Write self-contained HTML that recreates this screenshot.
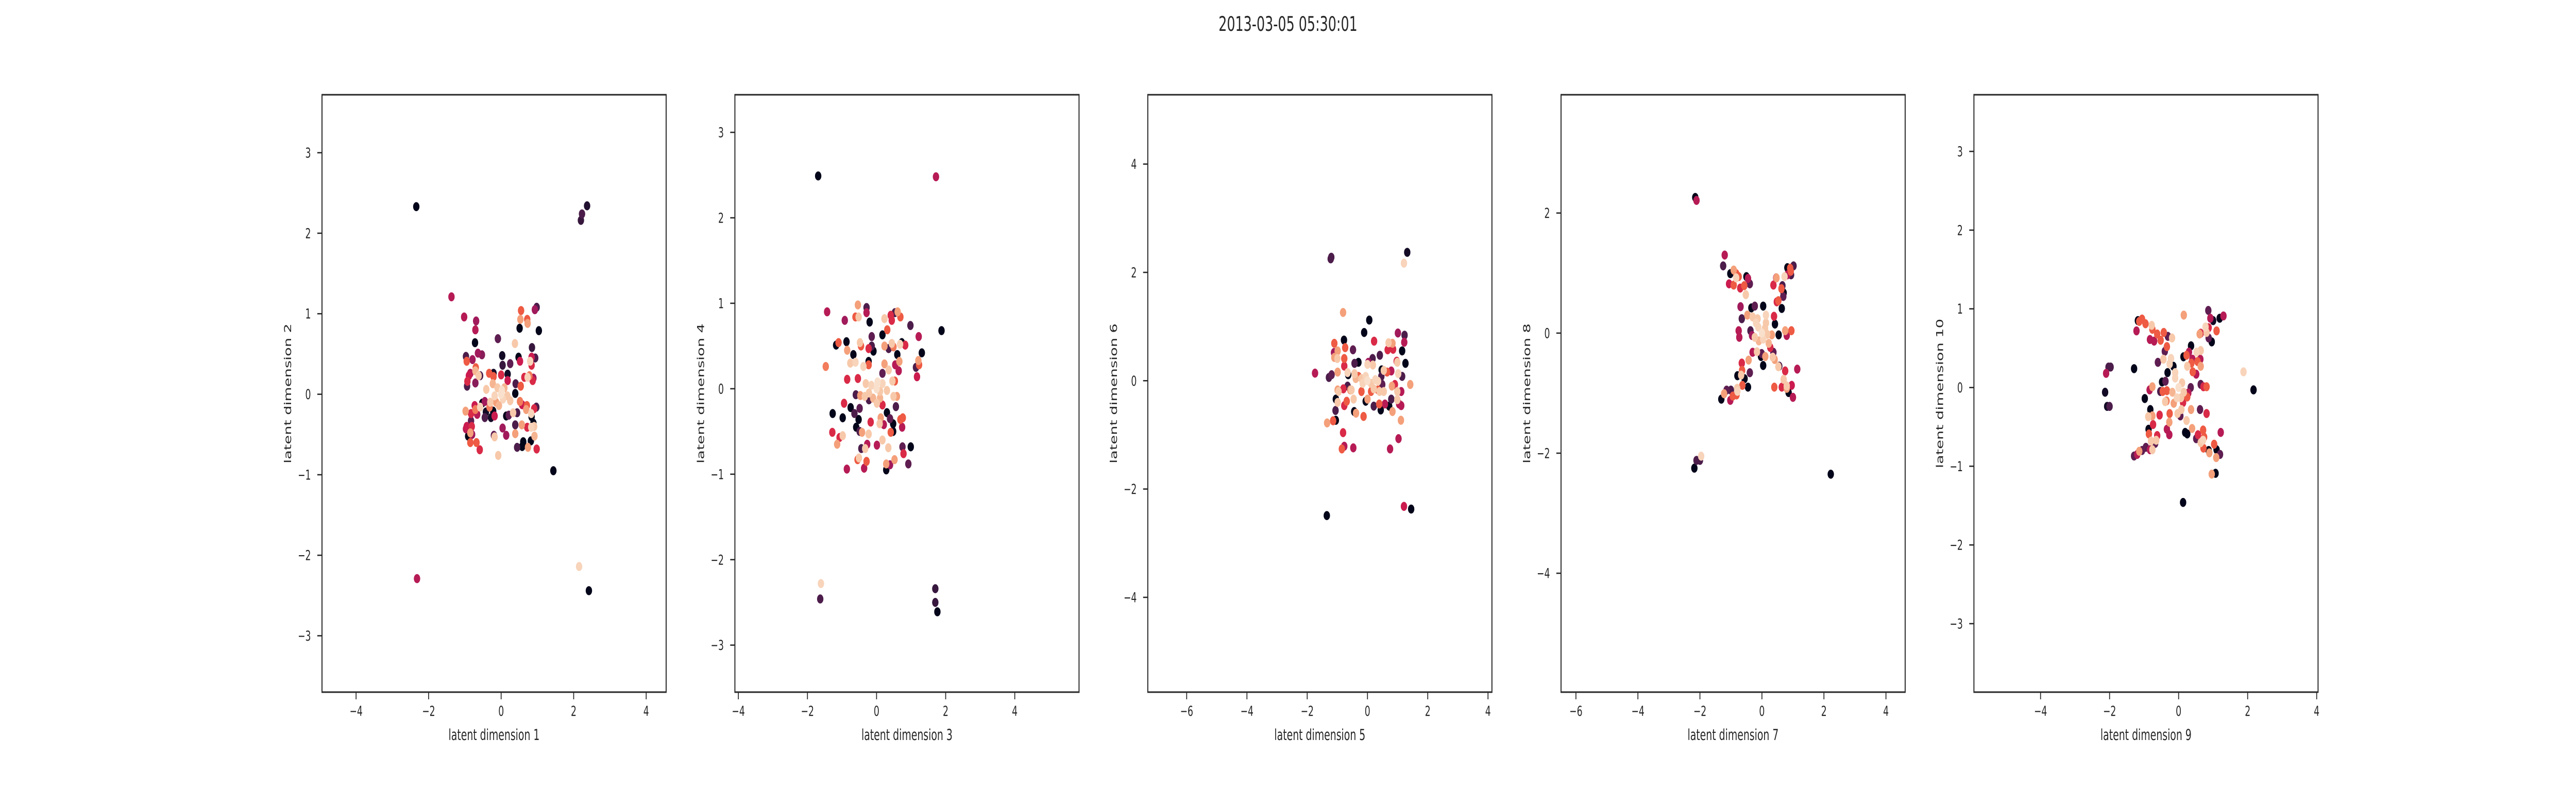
<!DOCTYPE html>
<html><head><meta charset="utf-8">
<style>
html,body{margin:0;padding:0;background:#fff;width:100%;height:100%;overflow:hidden;}
svg{display:block;width:100vw;height:100vh;}
text{font-family:"DejaVu Sans","Liberation Sans",sans-serif;fill:#262626;}
</style></head>
<body>
<svg id="fig" viewBox="0 0 7680 1536" preserveAspectRatio="none" xmlns="http://www.w3.org/2000/svg">
<rect width="7680" height="1536" fill="#fff"/>
<text x="3840" y="60" font-size="39" text-anchor="middle">2013-03-05 05:30:01</text>
</svg>
<script>
// ---- data ----
const xLabels = ["latent dimension 1","latent dimension 3","latent dimension 5","latent dimension 7","latent dimension 9"];
const yLabels = ["latent dimension 2","latent dimension 4","latent dimension 6","latent dimension 8","latent dimension 10"];
const xLimits = [[-4.94,4.55],[-4.10,5.86],[-7.29,4.13],[-6.48,4.62],[-5.93,4.04]];
const yLimits = [[-3.70,3.72],[-3.55,3.44],[-5.75,5.28],[-5.98,3.97],[-3.87,3.72]];
const xTicks = [[-4,-2,0,2,4],[-4,-2,0,2,4],[-6,-4,-2,0,2,4],[-6,-4,-2,0,2,4],[-4,-2,0,2,4]];
const yTicks = [[-3,-2,-1,0,1,2,3],[-3,-2,-1,0,1,2,3],[-4,-2,0,2,4],[-4,-2,0,2],[-3,-2,-1,0,1,2,3]];

const points1 = [[-2.34,2.33,0],[2.37,2.34,0.1],[2.23,2.24,0.2],[2.2,2.16,0.15],[-1.37,1.21,0.45],[-1.02,0.96,0.45],[-0.69,0.91,0.4],[-0.71,0.8,0.45],[-0.72,0.64,0],[-0.09,0.69,0.25],[0.55,1.04,0.65],[0.53,0.93,0.75],[0.72,0.93,0.65],[0.73,0.88,0.75],[0.98,1.08,0.2],[0.93,1.05,0.4],[1.04,0.79,0],[0.51,0.82,0],[0.38,0.63,0.85],[0.03,0.48,0.05],[0.04,0.36,0.15],[0.25,0.38,0.25],[0.48,0.46,0],[0.52,0.41,0.5],[0.85,0.58,0.15],[0.84,0.46,0.5],[0.94,0.45,0.2],[0.8,0.41,0.9],[0.84,0.36,0.55],[-0.97,0.47,0.2],[-0.95,0.41,0.65],[-0.79,0.43,0.4],[-0.53,0.49,0.35],[-0.64,0.51,0.4],[-0.7,0.33,0.65],[-0.71,0.29,0.8],[-0.62,0.23,0.85],[-0.85,0.26,0.45],[-0.89,0.23,0.5],[-0.93,0.16,0.55],[-0.94,0.1,0.2],[-0.71,0.14,0.35],[-0.58,0.23,0.2],[-0.33,0.26,0.65],[-0.21,0.26,0.05],[-0.21,0.22,0.65],[0,0.24,0.55],[0.18,0.25,0.05],[0.18,0.17,0.5],[0.4,0.13,0.2],[0.39,0.01,0],[0.54,0.1,0.65],[0.64,0.21,0.55],[0.73,0.21,0.9],[0.89,0.2,0.4],[0.87,0.17,0.55],[0.78,0.23,0.7],[-0.23,0.13,0.8],[-0.41,0.06,0.85],[0,0,0.95],[-0.1,0.08,0.85],[0.05,-0.06,0.9],[0.09,0.08,0.8],[-0.14,-0.1,0.75],[0.17,-0.02,0.85],[-0.06,-0.14,0.8],[-0.18,-0.02,0.9],[0.02,0.05,0.95],[-0.52,-0.11,0],[-0.45,-0.09,0.4],[-0.3,-0.1,0.85],[-0.32,-0.16,0.7],[-0.58,-0.16,0.9],[-0.71,-0.19,0.7],[-0.73,-0.14,0.5],[-0.98,-0.21,0.75],[-0.83,-0.24,0.55],[-0.66,-0.25,0.45],[-0.42,-0.22,0.05],[-0.45,-0.29,0.2],[-0.28,-0.29,0.05],[-0.18,-0.27,0.5],[-0.22,-0.21,0],[0.14,-0.27,0],[0.21,-0.26,0.25],[0.33,-0.23,0.85],[0.44,-0.23,0.2],[0.25,-0.08,0.85],[0.52,-0.09,0.7],[0.58,-0.13,0.5],[0.71,-0.14,0.65],[0.69,-0.19,0.75],[0.91,-0.18,0.55],[0.97,-0.16,0.2],[0.83,-0.24,0.9],[0.84,-0.28,0],[0.39,-0.38,0.2],[0.57,-0.38,0.75],[0.72,-0.41,0.55],[0.83,-0.41,0.9],[0.91,-0.4,0.85],[0.89,-0.36,0],[0.92,-0.52,0.8],[0.82,-0.58,0],[0.61,-0.59,0],[0.58,-0.65,0],[0.44,-0.66,0.2],[0.74,-0.66,0.75],[0.98,-0.68,0.55],[0.39,-0.49,0.75],[0.04,-0.42,0.4],[0.14,-0.51,0.4],[-0.2,-0.51,0.25],[-0.18,-0.53,0.85],[-0.08,-0.76,0.85],[-0.83,-0.33,0.25],[-0.81,-0.4,0.55],[-0.97,-0.43,0.45],[-0.95,-0.4,0.5],[-0.91,-0.52,0],[-0.8,-0.5,0.4],[-0.85,-0.48,0.75],[-0.85,-0.6,0.65],[-0.68,-0.6,0.65],[-0.59,-0.69,0.55],[1.44,-0.95,0],[-2.32,-2.29,0.45],[2.15,-2.14,0.9],[2.42,-2.44,0]];

const points2 = [[-1.69,2.49,0],[1.72,2.48,0.45],[-1.61,-2.28,0.9],[-1.63,-2.46,0.2],[1.7,-2.34,0.15],[1.7,-2.5,0.15],[1.76,-2.61,0],[1.88,0.68,0],[-1.43,0.9,0.45],[-1.47,0.26,0.7],[-0.92,0.8,0.4],[-0.54,0.98,0.75],[-0.29,0.95,0.2],[-0.29,0.89,0.45],[-0.61,0.84,0.65],[-0.52,0.84,0.85],[-0.2,0.78,0],[0.23,0.82,0.85],[0.41,0.86,0.55],[0.53,0.89,0.2],[0.61,0.9,0.75],[0.69,0.84,0.65],[0.44,0.8,0.55],[0.98,0.74,0.2],[1.22,0.61,0.45],[1.31,0.42,0],[1.21,0.33,0.75],[1.23,0.28,0.65],[1.14,0.25,0.2],[1.17,0.14,0.5],[0.31,0.69,0.65],[0.17,0.63,0],[-0.14,0.61,0.25],[-0.14,0.5,0.2],[-0.09,0.44,0],[-0.23,0.47,0.55],[-0.23,0.32,0],[-0.23,0.28,0.65],[-0.48,0.54,0.85],[-0.45,0.5,0.65],[-0.87,0.55,0],[-1.17,0.51,0],[-1.1,0.54,0.65],[-0.85,0.45,0.75],[-0.67,0.4,0],[-0.76,0.3,0.85],[-0.61,0.31,0.9],[-0.38,0.26,0.9],[-0.85,0.11,0.55],[0.23,0.5,0.75],[0.35,0.47,0.2],[0.44,0.53,0.85],[0.49,0.49,0.7],[0.68,0.52,0.9],[0.83,0.51,0.55],[0.73,0.54,0],[0.6,0.4,0],[0.66,0.32,0.75],[0.54,0.28,0.45],[0.64,0.21,0.45],[0.23,0.29,0.75],[0.35,0.22,0.85],[0.17,0.18,0.25],[0.53,0.09,0.65],[0.46,0.09,0.85],[-0.54,0.12,0.55],[-0.31,0.06,0.85],[0,0,0.95],[-0.15,0.04,0.9],[0.1,-0.03,0.85],[-0.1,-0.11,0.8],[0.17,0.06,0.9],[-0.22,-0.05,0.85],[0.1,-0.11,0.8],[0.3,-0.02,0.85],[0.03,0.08,0.95],[-0.6,-0.07,0.2],[-0.47,-0.08,0.75],[-0.34,-0.09,0.85],[-0.22,-0.13,0.2],[0.01,-0.17,0.85],[0.17,-0.19,0.55],[0.49,-0.09,0.85],[0.59,-0.09,0.75],[0.56,-0.21,0.2],[-0.94,-0.17,0.55],[-0.75,-0.22,0],[-0.49,-0.23,0.25],[-0.64,-0.29,0.2],[-1.27,-0.29,0],[-0.98,-0.34,0],[-0.52,-0.36,0],[-0.59,-0.45,0],[-0.49,-0.5,0.2],[-0.42,-0.51,0.75],[-0.17,-0.39,0.55],[-0.23,-0.53,0.85],[0.12,-0.34,0.75],[0.09,-0.41,0.85],[0.21,-0.42,0.45],[0.3,-0.28,0],[0.39,-0.35,0.25],[0.48,-0.41,0],[0.48,-0.5,0],[0.41,-0.51,0.65],[0.69,-0.36,0.65],[0.76,-0.34,0.65],[0.74,-0.45,0.45],[-1.28,-0.51,0.55],[-1.07,-0.57,0.55],[-0.98,-0.55,0.85],[-1.14,-0.65,0.75],[-0.44,-0.7,0.2],[-0.33,-0.7,0.85],[-0.27,-0.65,0.45],[0.01,-0.66,0.45],[0.17,-0.6,0.85],[0.34,-0.69,0.85],[0.75,-0.68,0.25],[0.99,-0.68,0],[0.78,-0.76,0.55],[0.92,-0.88,0.25],[0.52,-0.83,0.75],[0.39,-0.89,0.4],[0.28,-0.88,0.75],[0.28,-0.95,0],[-0.55,-0.83,0.65],[-0.51,-0.81,0.85],[-0.29,-0.85,0.65],[-0.36,-0.93,0.45],[-0.86,-0.94,0.45]];

const points3 = [[-1.22,2.25,0.2],[-1.2,2.28,0.2],[1.32,2.37,0.05],[1.21,2.17,0.9],[-0.81,1.26,0.75],[0.06,1.12,0],[-0.11,0.89,0],[-0.78,0.75,0],[0.22,0.73,0.55],[-0.48,0.57,0.25],[-1.1,0.69,0.65],[-0.74,0.61,0.65],[-1.11,0.52,0.4],[-0.99,0.55,0.75],[0.41,0.47,0.2],[0.67,0.57,0.55],[0.7,0.7,0.85],[0.83,0.69,0.75],[0.85,0.58,0.55],[1.01,0.88,0.4],[1.23,0.84,0.2],[1.22,0.71,0.45],[1.15,0.55,0],[1.26,0.32,0],[0.97,0.36,0.55],[0.99,0.34,0.85],[0.79,0.18,0.45],[1.02,0.13,0.9],[1.15,0.08,0.2],[1.42,-0.07,0.75],[-1.74,0.14,0.45],[-1.28,0.06,0.2],[-1.19,0.11,0.25],[-1.0,0.41,0.85],[-1.1,0.43,0.75],[-0.77,0.41,0.65],[-0.77,0.27,0.55],[-0.99,0.16,0.75],[-0.66,0.15,0.9],[-0.64,0.11,0],[-0.43,0.32,0.2],[-0.3,0.34,0],[0,0.3,0.9],[0.03,0.34,0.4],[0.17,0.41,0.2],[0.18,0.29,0.85],[0.47,0.2,0],[0.54,0.19,0.85],[0.65,0.16,0.65],[0.46,0.08,0.2],[-0.43,0.13,0.85],[-0.3,0.08,0.65],[-0.06,0.08,0.9],[0,0,0.95],[-0.16,-0.05,0.9],[0.12,-0.05,0.85],[0.26,0.02,0.9],[-0.2,0.04,0.85],[0.35,-0.01,0.9],[-0.39,0.04,0.8],[0.21,-0.15,0.85],[-0.99,-0.17,0.75],[-0.96,-0.2,0.85],[-0.8,-0.15,0.55],[-0.66,-0.1,0.2],[-0.53,-0.17,0.85],[-0.57,-0.17,0.75],[-0.2,-0.2,0.65],[0.12,-0.2,0.65],[0.35,-0.17,0.65],[0.4,-0.2,0.85],[0.54,-0.2,0.85],[0.99,-0.2,0.85],[1.12,-0.2,0.45],[0.81,-0.1,0.75],[0.91,-0.07,0.55],[0.49,-0.07,0.25],[-1.05,-0.34,0],[-0.99,-0.4,0.85],[-0.69,-0.38,0.65],[-0.77,-0.46,0.55],[-0.46,-0.34,0.85],[-0.06,-0.38,0],[0,-0.34,0.75],[0.21,-0.47,0.2],[0.39,-0.43,0.65],[0.58,-0.43,0.45],[0.72,-0.47,0],[0.79,-0.34,0.2],[0.99,-0.35,0.85],[1.05,-0.43,0.45],[1.12,-0.46,0.45],[0.44,-0.54,0],[0.83,-0.57,0.75],[-0.44,-0.57,0],[-0.38,-0.6,0.75],[-0.13,-0.66,0.65],[-1.06,-0.55,0.2],[-1.05,-0.73,0],[-1.14,-0.74,0.65],[-1.34,-0.78,0.75],[1.11,-0.73,0.75],[-0.81,-0.96,0.55],[-0.77,-1.21,0.45],[-0.85,-1.26,0.65],[-0.47,-1.24,0.45],[0.75,-1.26,0.45],[1.03,-1.07,0.45],[-1.35,-2.49,0],[1.21,-2.32,0.5],[1.45,-2.37,0]];

const points4 = [[-2.15,2.26,0],[-2.11,2.21,0.45],[-2.18,-2.25,0],[-2.11,-2.12,0.2],[-2.0,-2.12,0.2],[-1.96,-2.05,0.9],[2.22,-2.35,0],[-1.2,1.3,0.45],[-1.25,1.12,0.2],[-1.02,0.99,0],[-0.91,1.05,0.75],[-0.83,0.99,0.65],[-0.75,0.94,0.65],[-0.83,0.92,0.9],[-1.06,0.82,0.5],[-0.91,0.8,0.65],[-0.7,0.75,0.55],[-0.57,0.79,0.65],[-0.52,0.64,0.85],[-0.5,0.94,0],[-0.45,0.91,0.45],[-0.39,0.82,0.25],[-0.69,0.44,0.4],[-0.65,0.24,0.2],[-0.34,0.42,0],[-0.23,0.45,0.25],[0.04,0.45,0],[-0.47,0.3,0.75],[-0.3,0.27,0.85],[-0.14,0.24,0.85],[0.13,0.3,0.9],[0.39,0.28,0.55],[0.42,0.15,0],[0.54,-0.03,0],[0.32,-0.03,0.75],[-0.75,0.04,0.45],[-0.73,-0.07,0.45],[-0.37,0.04,0.2],[-0.32,-0.04,0.4],[-0.23,-0.07,0.85],[0,0,0.95],[-0.12,0.1,0.9],[0.1,0.08,0.85],[0.04,-0.1,0.9],[0.17,-0.02,0.85],[-0.1,-0.13,0.8],[-0.19,0.17,0.9],[0.13,0.17,0.85],[0.22,-0.17,0.8],[-0.3,-0.32,0.45],[-0.16,-0.31,0.85],[-0.01,-0.34,0.25],[0.27,-0.24,0.55],[0.37,-0.32,0.25],[0.11,-0.39,0.75],[-0.03,-0.39,0],[0.04,-0.54,0],[0.41,-0.44,0.75],[0.35,-0.4,0.85],[0.53,-0.56,0.85],[0.56,-0.55,0.2],[-0.43,-0.45,0.75],[-0.65,-0.5,0.55],[-0.39,-0.66,0.25],[-0.64,-0.62,0.65],[-0.67,-0.7,0.85],[-0.79,-0.71,0],[-0.56,-0.76,0],[-0.45,-0.9,0],[-0.63,-0.87,0.65],[-0.8,-0.92,0.85],[-0.79,-0.97,0.9],[-1.0,-0.95,0.2],[-1.14,-0.95,0.25],[-1.22,-1.01,0.75],[-0.94,-1.05,0.65],[-0.82,-1.03,0.65],[-1.02,-1.12,0.45],[-1.31,-1.1,0],[1.14,-0.6,0.45],[0.75,-0.63,0.55],[0.7,-0.77,0.85],[0.4,-0.9,0.65],[0.64,-0.9,0.55],[0.8,-0.92,0.75],[0.8,-0.88,0.85],[0.96,-0.87,0.5],[0.86,-0.99,0],[1.0,-1.07,0.45],[0.75,0.04,0.75],[0.95,0.04,0.65],[0.8,-0.04,0.45],[0.64,0.41,0],[0.48,0.52,0.55],[0.53,0.54,0.65],[0.69,0.61,0.25],[0.7,0.67,0],[0.63,0.74,0.65],[0.66,0.79,0.2],[0.37,0.8,0.55],[0.46,0.92,0.45],[0.47,0.92,0.75],[0.73,0.94,0.9],[0.82,0.97,0.45],[0.82,1.09,0],[0.93,1.03,0.65],[0.94,0.97,0.2],[1.02,1.12,0.2],[0.91,1.08,0.65]];

const points5 = [[-2.03,0.26,0.2],[-1.97,0.26,0.2],[-2.1,0.18,0.45],[-2.13,-0.06,0.05],[-2.07,-0.24,0.05],[-2.0,-0.24,0.2],[-1.29,0.24,0],[1.88,0.2,0.9],[2.17,-0.03,0],[0.13,-1.46,0],[0.15,0.92,0.75],[0.86,0.98,0.25],[1.3,0.91,0.45],[1.19,0.88,0],[1.0,0.85,0.05],[0.92,0.88,0.45],[0.78,0.77,0.9],[0.81,0.7,0.85],[0.87,0.76,0.55],[1.1,0.72,0.65],[0.64,0.69,0.55],[0.61,0.68,0.75],[0.87,0.63,0.25],[0.96,0.58,0],[0.64,0.47,0.85],[0.52,0.45,0.9],[0.4,0.36,0.45],[0.55,0.33,0.65],[0.63,0.36,0.45],[0.64,0.27,0.75],[0.37,0.31,0.65],[0.3,0.45,0.45],[0.23,0.41,0.65],[0.36,0.53,0],[0.14,0.39,0],[0.25,0.27,0.85],[0.41,0.2,0.65],[0.51,0.17,0.45],[0.64,0.04,0.25],[0.72,0.01,0.55],[0.81,0.01,0.65],[-1.18,0.85,0],[-1.14,0.84,0.65],[-1.06,0.87,0.65],[-1.22,0.72,0.45],[-0.96,0.81,0.65],[-0.78,0.79,0.85],[-0.76,0.74,0.65],[-0.83,0.61,0.45],[-0.71,0.59,0.45],[-0.62,0.68,0.65],[-0.52,0.6,0.65],[-0.43,0.7,0.65],[-0.31,0.65,0.25],[-0.19,0.63,0.85],[-0.34,0.52,0.65],[-0.4,0.46,0.25],[-0.6,0.32,0.25],[-0.44,0.36,0.85],[-0.22,0.37,0.9],[-0.26,0.3,0.9],[-0.15,0.27,0],[-0.32,0.19,0],[-0.38,0.08,0.25],[-0.48,0.07,0],[-0.84,-0.03,0.45],[-0.76,0.01,0.75],[-0.98,-0.14,0],[-0.53,-0.05,0.2],[-0.46,-0.05,0.65],[0,0,0.95],[-0.1,0.12,0.9],[0.1,0.06,0.85],[-0.05,-0.13,0.9],[0.07,-0.13,0.85],[-0.18,-0.06,0.8],[-0.1,0.19,0.9],[0.15,-0.06,0.85],[-0.34,-0.04,0.65],[-0.35,-0.17,0.7],[-0.39,-0.18,0.85],[-0.14,-0.2,0.75],[0.13,-0.19,0.55],[0.28,-0.07,0.45],[0.35,0,0.25],[0.25,-0.12,0.65],[0.36,-0.28,0.75],[0.08,-0.28,0.85],[-0.03,-0.33,0.85],[-0.26,-0.33,0.65],[-0.27,-0.44,0.75],[-0.55,-0.35,0.55],[-0.76,-0.36,0.75],[-0.88,-0.37,0.85],[-0.82,-0.28,0],[-0.74,-0.47,0.55],[-0.34,-0.53,0.45],[-0.27,-0.6,0.45],[0.05,-0.36,0.25],[0.23,-0.42,0.85],[0.39,-0.52,0.75],[0.62,-0.28,0.25],[0.81,-0.33,0.55],[0.19,-0.57,0],[0.25,-0.59,0],[0.51,-0.65,0.25],[0.56,-0.6,0.55],[0.71,-0.54,0.65],[0.74,-0.63,0.65],[0.64,-0.7,0.85],[0.71,-0.67,0.9],[0.72,-0.77,0.65],[1.03,-0.72,0.65],[1.22,-0.57,0.45],[0.87,-0.8,0],[1.1,-0.79,0],[1.2,-0.85,0.25],[0.89,-0.83,0.75],[1.09,-0.89,0.75],[1.07,-1.09,0],[0.96,-1.1,0.75],[-0.87,-0.53,0],[-0.86,-0.59,0.65],[-0.62,-0.61,0.55],[-0.8,-0.68,0.85],[-0.65,-0.67,0.85],[-0.68,-0.71,0.25],[-0.95,-0.76,0.25],[-1.06,-0.8,0.25],[-1.14,-0.81,0.75],[-0.83,-0.79,0.45],[-0.76,-0.79,0.85],[-1.29,-0.87,0.25],[-1.2,-0.85,0.45]];

const allPoints = [points1, points2, points3, points4, points5];

// ---- layout / style ----
const NS = "http://www.w3.org/2000/svg";
const svg = document.getElementById("fig");
const panelLeft = [960, 2191, 3422, 4654, 5885];
const panelW = 1026, panelTop = 184, panelBottom = 1344;
const ink = "#262626";
const stops = [[0,[3,5,26]],[0.1,[34,17,49]],[0.2,[76,29,75]],[0.3,[111,31,87]],[0.4,[161,26,91]],[0.5,[203,27,79]],[0.58,[225,51,66]],[0.66,[240,96,67]],[0.75,[244,160,122]],[0.85,[247,201,170]],[1,[250,235,221]]];
function rocket(c){
  for(let i=1;i<stops.length;i++){
    if(c<=stops[i][0]){
      const a=stops[i-1],b=stops[i],t=(c-a[0])/(b[0]-a[0]);
      return "rgb("+a[1].map((v,k)=>Math.round(v+(b[1][k]-v)*t)).join(",")+")";
    }
  }
  return "rgb(250,235,221)";
}
function mk(tag, attrs, parent){
  const e=document.createElementNS(NS,tag);
  for(const k in attrs) e.setAttribute(k, attrs[k]);
  (parent||svg).appendChild(e);
  return e;
}
function fmt(v){ return v<0 ? "\u2212"+Math.abs(v) : String(v); }

for(let p=0;p<5;p++){
  const L=panelLeft[p];
  const [x0,x1]=xLimits[p], [y0,y1]=yLimits[p];
  const sx = v => L + (v-x0)/(x1-x0)*panelW;
  const sy = v => panelBottom - (v-y0)/(y1-y0)*(panelBottom-panelTop);
  const g = mk("g",{});
  
  

  const clipId="clip"+p;
  const cp=mk("clipPath",{id:clipId},g);
  mk("rect",{x:L,y:panelTop,width:panelW,height:panelBottom-panelTop},cp);
  const pts=mk("g",{"clip-path":"url(#"+clipId+")"},g);
  
  
  const data = allPoints[p].slice().sort((a,b)=>a[2]-b[2]);
  data.forEach(d=>{
    const c=mk("ellipse",{cx:sx(d[0]).toFixed(1),cy:sy(d[1]).toFixed(1),rx:9.5,ry:8.8,fill:rocket(d[2])},pts);
    
    
  });

  const frame=mk("rect",{x:L,y:panelTop,width:panelW,height:panelBottom-panelTop,fill:"none",stroke:ink,"stroke-width":3},g);
  
  

  xTicks[p].forEach(t=>{
    const x=sx(t);
    mk("line",{x1:x,x2:x,y1:panelBottom,y2:panelBottom+14,stroke:ink,"stroke-width":2.6},g);
    const tx=mk("text",{x:x,y:panelBottom+46,"font-size":26.5,"text-anchor":"middle"},g);
    tx.textContent=fmt(t);
    
    
  });
  yTicks[p].forEach(t=>{
    const y=sy(t);
    mk("line",{x1:L-14,x2:L,y1:y,y2:y,stroke:ink,"stroke-width":2.6},g);
    const ty=mk("text",{x:L-33,y:y+9.5,"font-size":26.5,"text-anchor":"end"},g);
    ty.textContent=fmt(t);
    
    
  });
  const xl=mk("text",{x:L+panelW/2,y:1437,"font-size":29,"text-anchor":"middle"},g);
  xl.textContent=xLabels[p];
  
  
  const cy=(panelTop+panelBottom)/2;
  const yl=mk("text",{x:L-92,y:cy,"font-size":29,"text-anchor":"middle",transform:"rotate(-90 "+(L-92)+" "+cy+")"},g);
  yl.textContent=yLabels[p];
  
  
}
</script>
</body></html>
